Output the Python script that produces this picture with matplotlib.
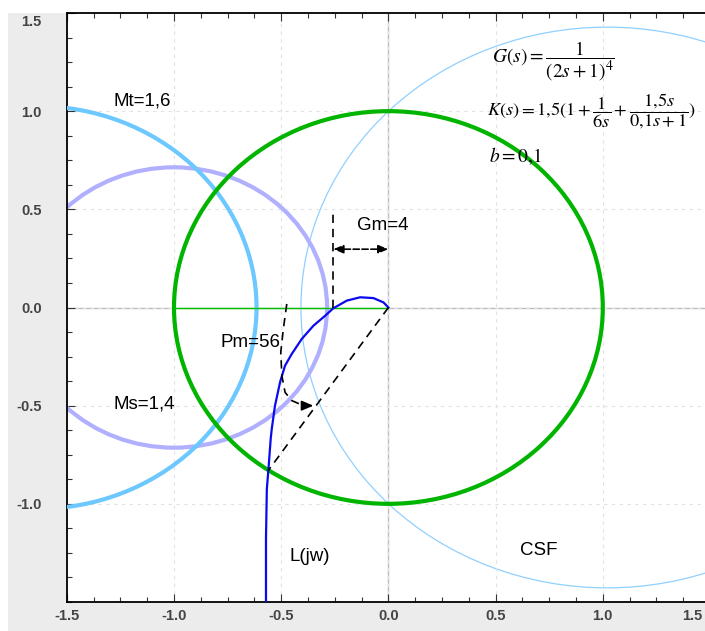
import numpy as np
import matplotlib.pyplot as plt
from matplotlib.patches import Circle, Rectangle
from matplotlib.ticker import MultipleLocator, FormatStrFormatter
from matplotlib.transforms import ScaledTranslation

plt.rcParams['font.family'] = ['Liberation Sans', 'DejaVu Sans']
plt.rcParams['axes.unicode_minus'] = False

# circles: unit circle, M-circle Mt=1.6, Ms=1.4 circle, CSF circle
circle_cx = [0.0, -1.641, -1.0, 1.02]
circle_r = [1.0, 1.026, 0.714, 1.428]
circle_colors = ['#00b400', '#6cc8ff', '#b0b0ff', '#90d0ff']
circle_widths = [3.0, 3.0, 3.0, 0.9]
circle_z = [4, 3, 2, 1]

# Nyquist curve L(jw)
L_re = [-0.571, -0.571, -0.567, -0.560, -0.549, -0.544, -0.529, -0.505, -0.482,
        -0.451, -0.404, -0.350, -0.295, -0.257, -0.194, -0.132, -0.070, -0.023, 0.0]
L_im = [-1.56, -1.178, -0.924, -0.831, -0.669, -0.618, -0.500, -0.379, -0.296,
        -0.237, -0.160, -0.093, -0.042, -0.004, 0.035, 0.052, 0.048, 0.026, 0.0]

# phase margin arc (hand drawn in the original)
pm_re = [-0.474, -0.490, -0.502, -0.497, -0.482, -0.451, -0.396, -0.350]
pm_im = [0.018, -0.109, -0.228, -0.347, -0.432, -0.474, -0.500, -0.500]

# gain margin: real-axis crossing, phase crossover point on unit circle
gm_x = -0.257
gm_top = 0.476
gm_arrow_y = 0.297
pc_re, pc_im = -0.56, -0.83

# thin green segment on the real axis
seg_re = [-1.0, 0.0]
seg_im = [0.0, 0.0]

fig = plt.figure(figsize=(7.05, 6.31), dpi=100)
fig.patch.set_facecolor('white')
fig.add_artist(Rectangle((8 / 705, 0), 1, (631 - 13) / 631, transform=fig.transFigure,
                         facecolor='#ececec', edgecolor='none', zorder=-10))

ax = fig.add_axes([66.8 / 705, 29 / 631, (710 - 66.8) / 705, (602 - 13) / 631])
ax.set_xlim(-1.5, 1.5)
ax.set_ylim(-1.5, 1.5)

ax.grid(True, which='major', ls=(0, (3, 4)), color='#e2e2e2', lw=0.8)
ax.axhline(0, color='#bdbdbd', lw=1.0, zorder=0.5)
ax.axvline(0, color='#bdbdbd', lw=1.0, zorder=0.5)

for cx, r, c, w, z in zip(circle_cx, circle_r, circle_colors, circle_widths, circle_z):
    ax.add_patch(Circle((cx, 0), r, fill=False, edgecolor=c, lw=w, zorder=z))

ax.plot(seg_re, seg_im, color='#00c000', lw=1.0, zorder=4)
ax.plot(L_re, L_im, color='#0a0af0', lw=1.6, zorder=5)

dash = (0, (5, 3.5))
ax.plot([gm_x, gm_x], [0, gm_top], color='black', lw=1.2, ls=dash, zorder=6)
ax.annotate('', xy=(0, gm_arrow_y), xytext=(gm_x, gm_arrow_y),
            arrowprops=dict(arrowstyle='<|-|>,head_length=0.6,head_width=0.25',
                            color='black', lw=1.2, ls='--', shrinkA=0, shrinkB=0),
            zorder=6)
ax.plot([0, pc_re], [0, pc_im], color='black', lw=1.2, ls=dash, zorder=6)
ax.plot(pm_re[:-1], pm_im[:-1], color='black', lw=1.2, ls=dash, zorder=6)
ax.annotate('', xy=(pm_re[-1], pm_im[-1]), xytext=(pm_re[-2], pm_im[-2]),
            arrowprops=dict(arrowstyle='-|>,head_length=0.7,head_width=0.3',
                            color='black', lw=1.2, shrinkA=0, shrinkB=0),
            zorder=6)

lab = dict(fontsize=13.5, va='center', ha='left', zorder=7)
ax.text(-1.284, 1.051, 'Mt=1,6', **lab)
ax.text(-1.284, -0.491, 'Ms=1,4', **lab)
ax.text(-0.785, -0.176, 'Pm=56', **lab)
ax.text(-0.146, 0.42, 'Gm=4', **lab)
ax.text(-0.459, -1.27, 'L(jw)', **lab)
ax.text(0.615, -1.236, 'CSF', **lab)

fml = dict(va='center', ha='left', math_fontfamily='stix', zorder=7)
ax.text(0.484, 1.254, r'$G(s) = \dfrac{1}{(2s+1)^4}$', fontsize=14, **fml)
ax.text(0.462, 1.0, r'$K(s) = 1{,}5(1+\dfrac{1}{6s}+\dfrac{1{,}5s}{0{,}1s+1})$',
        fontsize=13.2, **fml)
ax.text(0.47, 0.771, r'$b = 0{,}1$', fontsize=14, **fml)

ax.set_xticks(np.arange(-1.5, 1.51, 0.5))
ax.set_yticks(np.arange(-1.0, 1.51, 0.5))
ax.xaxis.set_minor_locator(MultipleLocator(0.125))
ax.yaxis.set_minor_locator(MultipleLocator(0.125))
ax.xaxis.set_major_formatter(FormatStrFormatter('%.1f'))
ax.yaxis.set_major_formatter(FormatStrFormatter('%.1f'))
ax.tick_params(which='both', direction='in', top=True, right=False, color='#333333', width=0.8)
ax.tick_params(which='major', length=6)
ax.tick_params(which='minor', length=3.5)
ax.tick_params(axis='x', pad=5)
ax.tick_params(axis='y', pad=18)
for t in ax.get_xticklabels() + ax.get_yticklabels():
    t.set_fontweight('bold')
    t.set_fontsize(10.5)
    t.set_color('#444444')

ax.spines['right'].set_visible(False)
for s in ['top', 'left', 'bottom']:
    ax.spines[s].set_linewidth(1.3)

fig.canvas.draw()
xl = ax.get_xticklabels()[-1]
xl.set_transform(xl.get_transform() + ScaledTranslation(-0.18, 0, fig.dpi_scale_trans))
yl = ax.get_yticklabels()[-1]
yl.set_transform(yl.get_transform() + ScaledTranslation(0, -0.07, fig.dpi_scale_trans))

fig.savefig('out.png', dpi=100)
